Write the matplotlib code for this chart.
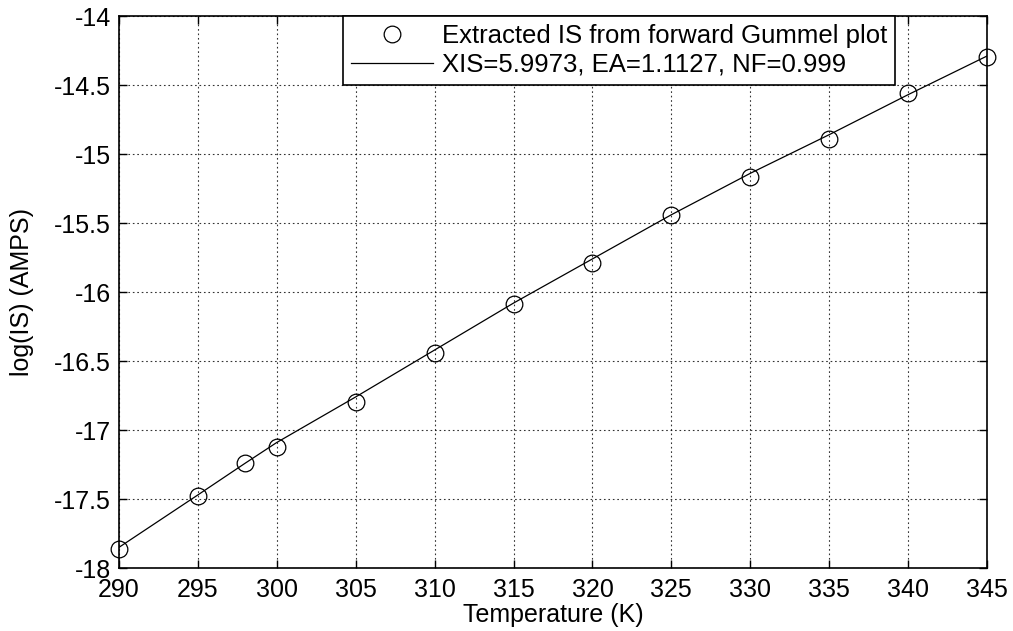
import matplotlib
matplotlib.use("Agg")
import matplotlib.pyplot as plt

# temperatures (K)
temps = [290, 295, 298, 300, 305, 310, 315, 320, 325, 330, 335, 340, 345]
# extracted log(IS) values
log_is = [-17.86, -17.48, -17.24, -17.12, -16.80, -16.44, -16.09,
          -15.79, -15.44, -15.17, -14.89, -14.56, -14.30]
# fitted model
log_fit = [-17.85, -17.47, -17.24, -17.09, -16.76, -16.42, -16.08,
           -15.76, -15.44, -15.14, -14.86, -14.57, -14.29]

x_ticks = [290, 295, 300, 305, 310, 315, 320, 325, 330, 335, 340, 345]
y_ticks = [-18, -17.5, -17, -16.5, -16, -15.5, -15, -14.5, -14]
y_ticklabels = ['-18', '-17.5', '-17', '-16.5', '-16', '-15.5', '-15', '-14.5', '-14']

plt.rcParams['font.family'] = ['Liberation Sans', 'DejaVu Sans']
plt.rcParams['font.size'] = 18

fig = plt.figure(figsize=(10.13, 6.31), dpi=100)
ax = fig.add_axes([0.1175, 0.0998, 0.8568, 0.8748])

ax.plot(temps, log_is, linestyle='none', marker='o', markersize=12,
        markerfacecolor='none', markeredgecolor='black', markeredgewidth=0.9,
        clip_on=False, zorder=3,
        label='Extracted IS from forward Gummel plot')
ax.plot(temps, log_fit, color='black', linewidth=0.9,
        label='XIS=5.9973, EA=1.1127, NF=0.999')

ax.set_xlim(290, 345)
ax.set_ylim(-18, -14)
ax.set_xticks(x_ticks)
ax.set_yticks(y_ticks)
ax.set_yticklabels(y_ticklabels)

ax.grid(True, linestyle=(0, (1.5, 2.5)), color='black', linewidth=0.8, alpha=0.8)
ax.tick_params(direction='in', top=True, right=True, length=6, width=1)
ax.tick_params(axis='x', pad=7)
ax.tick_params(axis='y', pad=6)
for s in ax.spines.values():
    s.set_linewidth(1.2)

ax.set_xlabel('Temperature (K)', labelpad=1)
ax.set_ylabel('log(IS) (AMPS)', labelpad=14)

leg = ax.legend(loc='upper left', bbox_to_anchor=(0.258, 1.0), frameon=True,
                fancybox=False, edgecolor='black', framealpha=1,
                fontsize=18.5, handlelength=3.2, handletextpad=0.35,
                borderaxespad=0, labelspacing=0.2, borderpad=0.3)
leg.get_frame().set_linewidth(1.2)

fig.savefig('out.png', dpi=100)
